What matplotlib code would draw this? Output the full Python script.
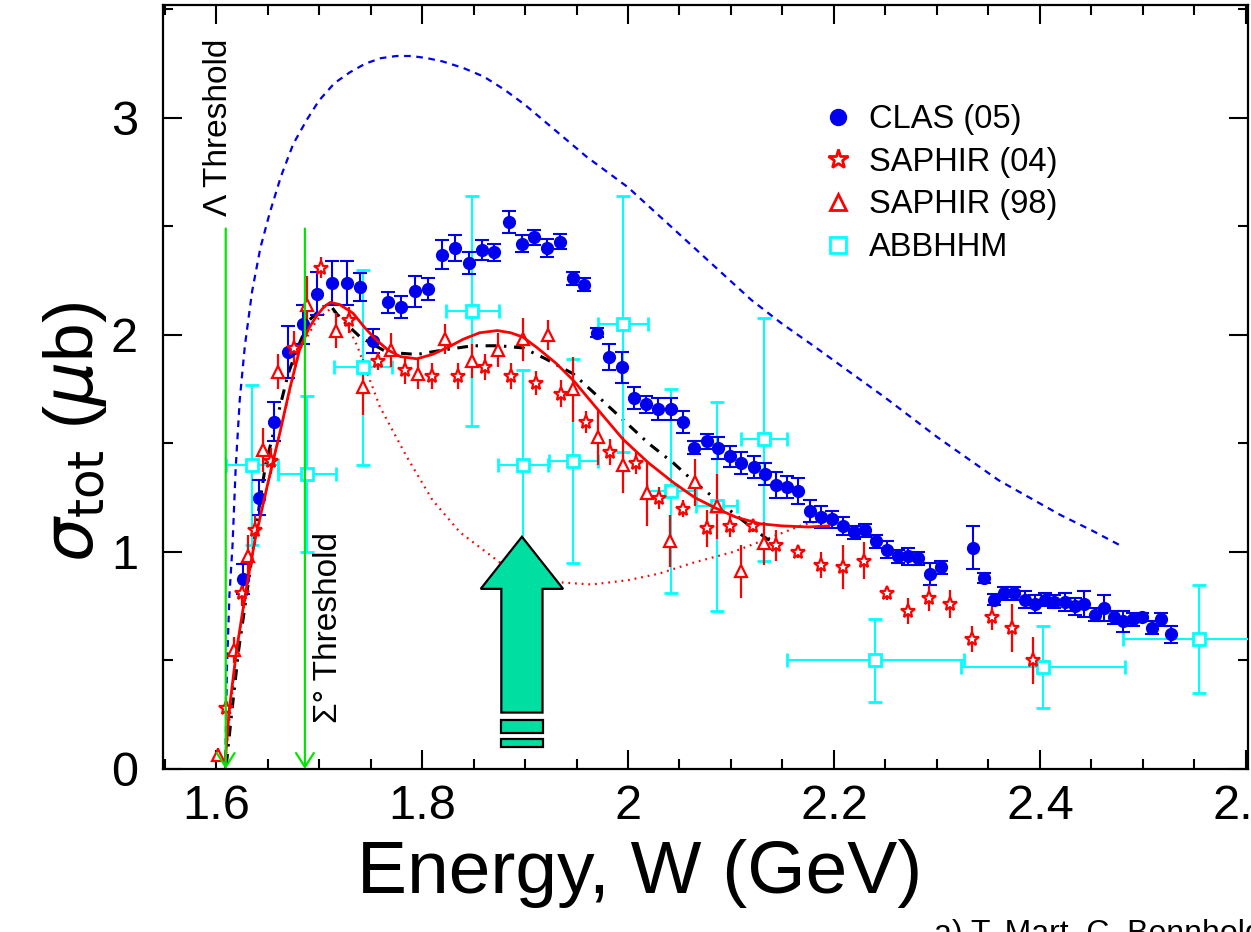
import matplotlib
matplotlib.use("Agg")
import matplotlib.pyplot as plt
from matplotlib.lines import Line2D
from matplotlib.patches import Polygon, Rectangle
from matplotlib.ticker import MultipleLocator, FuncFormatter

plt.rcParams['font.family'] = ['Liberation Sans', 'DejaVu Sans']

# ---- data: CLAS (05) ----
clas_w = [1.626, 1.642, 1.656, 1.670, 1.684, 1.698, 1.713, 1.727, 1.740, 1.752,
          1.767, 1.780, 1.793, 1.806, 1.819, 1.832, 1.846, 1.858, 1.870, 1.884,
          1.897, 1.909, 1.921, 1.934, 1.947, 1.957, 1.970, 1.982, 1.994, 2.006,
          2.017, 2.029, 2.042, 2.053, 2.064, 2.077, 2.087, 2.099, 2.110, 2.122,
          2.133, 2.144, 2.154, 2.165, 2.177, 2.187, 2.198, 2.209, 2.219, 2.230,
          2.241, 2.251, 2.262, 2.272, 2.282, 2.293, 2.304, 2.335, 2.346, 2.355,
          2.365, 2.375, 2.385, 2.395, 2.405, 2.414, 2.424, 2.434, 2.443, 2.453,
          2.462, 2.472, 2.481, 2.490, 2.499, 2.509, 2.518, 2.527]
clas_s = [0.876, 1.25, 1.60, 1.92, 2.05, 2.19, 2.24, 2.24, 2.22, 1.97,
          2.15, 2.13, 2.20, 2.21, 2.37, 2.40, 2.33, 2.39, 2.38, 2.52,
          2.42, 2.45, 2.40, 2.43, 2.26, 2.23, 2.01, 1.90, 1.85, 1.71,
          1.68, 1.66, 1.66, 1.60, 1.48, 1.51, 1.48, 1.44, 1.41, 1.39,
          1.36, 1.31, 1.30, 1.28, 1.19, 1.16, 1.15, 1.12, 1.09, 1.10,
          1.05, 1.01, 0.98, 0.98, 0.97, 0.90, 0.93, 1.02, 0.88, 0.78,
          0.81, 0.81, 0.78, 0.76, 0.78, 0.77, 0.77, 0.75, 0.76, 0.71,
          0.74, 0.70, 0.68, 0.69, 0.70, 0.65, 0.69, 0.62]
clas_e = [0.07, 0.08, 0.09, 0.12, 0.09, 0.10, 0.10, 0.10, 0.065, 0.055,
          0.05, 0.05, 0.07, 0.05, 0.065, 0.06, 0.05, 0.045, 0.04, 0.05,
          0.04, 0.035, 0.04, 0.035, 0.03, 0.03, 0.02, 0.06, 0.07, 0.05,
          0.04, 0.05, 0.05, 0.05, 0.03, 0.035, 0.05, 0.05, 0.05, 0.05,
          0.05, 0.06, 0.05, 0.06, 0.05, 0.05, 0.04, 0.04, 0.03, 0.03,
          0.03, 0.04, 0.03, 0.04, 0.03, 0.05, 0.03, 0.10, 0.025, 0.025,
          0.03, 0.03, 0.04, 0.04, 0.03, 0.03, 0.04, 0.04, 0.06, 0.03,
          0.06, 0.03, 0.05, 0.03, 0.02, 0.03, 0.03, 0.04]

# ---- SAPHIR (04) ----
s04_w = [1.610, 1.625, 1.638, 1.653, 1.676, 1.702, 1.729, 1.757, 1.783, 1.810,
         1.835, 1.861, 1.886, 1.911, 1.935, 1.959, 1.983, 2.008, 2.030, 2.053,
         2.077, 2.099, 2.121, 2.144, 2.165, 2.187, 2.209, 2.229, 2.251, 2.272,
         2.292, 2.313, 2.334, 2.353, 2.373, 2.393]
s04_s = [0.28, 0.81, 1.10, 1.42, 1.94, 2.31, 2.07, 1.88, 1.84, 1.81,
         1.81, 1.85, 1.81, 1.78, 1.73, 1.60, 1.46, 1.41, 1.25, 1.20,
         1.11, 1.12, 1.12, 1.03, 1.00, 0.94, 0.93, 0.96, 0.81, 0.73,
         0.79, 0.76, 0.60, 0.70, 0.65, 0.50]
s04_e = [0.05, 0.06, 0.07, 0.06, 0.08, 0.05, 0.06, 0.04, 0.065, 0.06,
         0.06, 0.06, 0.06, 0.055, 0.06, 0.05, 0.06, 0.05, 0.05, 0.04,
         0.085, 0.05, 0.03, 0.07, 0.03, 0.06, 0.10, 0.085, 0.03, 0.06,
         0.06, 0.065, 0.06, 0.06, 0.11, 0.11]

# ---- SAPHIR (98) ----
s98_w = [1.602, 1.617, 1.631, 1.646, 1.660, 1.688, 1.716, 1.743, 1.770, 1.796,
         1.822, 1.849, 1.874, 1.898, 1.922, 1.947, 1.971, 1.995, 2.018, 2.041,
         2.065, 2.086, 2.110, 2.132]
s98_s = [0.065, 0.55, 0.98, 1.47, 1.83, 2.14, 2.02, 1.76, 1.93, 1.82,
         1.98, 1.88, 1.93, 1.98, 2.00, 1.75, 1.53, 1.40, 1.27, 1.05,
         1.32, 1.21, 0.91, 1.04]
s98_e = [0.03, 0.06, 0.10, 0.10, 0.08, 0.13, 0.08, 0.13, 0.08, 0.07,
         0.07, 0.08, 0.08, 0.10, 0.07, 0.15, 0.13, 0.13, 0.15, 0.12,
         0.11, 0.15, 0.12, 0.10]

# ---- ABBHHM ----
abb_w = [1.635, 1.688, 1.743, 1.849, 1.898, 1.947, 1.995, 2.042, 2.086, 2.132,
         2.240, 2.403, 2.554]
abb_s = [1.40, 1.36, 1.85, 2.11, 1.40, 1.42, 2.05, 1.28, 1.21, 1.52,
         0.50, 0.47, 0.60]
abb_xe = [0.025, 0.028, 0.028, 0.026, 0.024, 0.024, 0.024, 0.024, 0.020, 0.022,
          0.086, 0.080, 0.073]
abb_ye = [0.37, 0.36, 0.45, 0.53, 0.44, 0.47, 0.59, 0.47, 0.48, 0.56,
          0.19, 0.19, 0.25]

# ---- model curves ----
fit_w = [1.609, 1.613, 1.620, 1.630, 1.638, 1.650, 1.662, 1.672, 1.681, 1.690,
         1.698, 1.705, 1.711, 1.720, 1.733, 1.745, 1.755, 1.767, 1.779, 1.795,
         1.810, 1.824, 1.840, 1.856, 1.873, 1.886, 1.898, 1.912, 1.930, 1.947,
         1.970, 1.995, 2.020, 2.044, 2.065, 2.086, 2.105, 2.128, 2.150, 2.175, 2.195]
fit_s = [0.04, 0.28, 0.55, 0.85, 1.06, 1.31, 1.55, 1.76, 1.93, 2.03,
         2.09, 2.13, 2.15, 2.14, 2.10, 2.03, 1.98, 1.93, 1.90, 1.89,
         1.91, 1.94, 1.98, 2.01, 2.02, 2.01, 1.99, 1.94, 1.87, 1.79,
         1.66, 1.52, 1.41, 1.32, 1.25, 1.20, 1.16, 1.13, 1.12, 1.115, 1.12]

dd_w = [1.610, 1.615, 1.622, 1.632, 1.641, 1.648, 1.660, 1.670, 1.679, 1.691,
        1.704, 1.712, 1.720, 1.740, 1.766, 1.795, 1.820, 1.849, 1.875, 1.898,
        1.920, 1.947, 1.970, 1.995, 2.020, 2.044, 2.065, 2.086, 2.110, 2.135, 2.140]
dd_s = [0.02, 0.25, 0.55, 0.88, 1.18, 1.40, 1.63, 1.82, 1.94, 2.07,
        2.13, 2.13, 2.08, 1.99, 1.92, 1.91, 1.93, 1.95, 1.95, 1.94,
        1.89, 1.82, 1.72, 1.61, 1.50, 1.41, 1.32, 1.24, 1.15, 1.06, 1.05]

dot_w = [1.609, 1.620, 1.638, 1.662, 1.681, 1.698, 1.711, 1.725, 1.737, 1.759,
         1.785, 1.810, 1.837, 1.876, 1.905, 1.934, 1.965, 2.000, 2.030, 2.063,
         2.102, 2.135, 2.167, 2.190]
dot_s = [0.04, 0.55, 1.06, 1.55, 1.93, 2.07, 2.12, 2.07, 1.95, 1.67,
         1.44, 1.24, 1.09, 0.95, 0.89, 0.86, 0.85, 0.87, 0.90, 0.95,
         1.00, 1.06, 1.12, 1.15]

dash_w = [1.609, 1.6105, 1.613, 1.616, 1.619, 1.623, 1.628, 1.635, 1.643, 1.652,
          1.663, 1.675, 1.688, 1.700, 1.715, 1.730, 1.745, 1.760, 1.775, 1.790,
          1.805, 1.820, 1.840, 1.860, 1.880, 1.900, 1.920, 1.940, 1.960, 1.980,
          2.000, 2.030, 2.060, 2.090, 2.120, 2.150, 2.180, 2.215, 2.250, 2.300,
          2.330, 2.360, 2.390, 2.420, 2.450, 2.478]
dash_s = [0.00, 0.45, 0.80, 1.03, 1.38, 1.70, 1.95, 2.20, 2.40, 2.56,
          2.73, 2.88, 2.99, 3.08, 3.16, 3.21, 3.25, 3.275, 3.285, 3.285,
          3.275, 3.26, 3.23, 3.19, 3.13, 3.06, 2.98, 2.90, 2.82, 2.75,
          2.68, 2.55, 2.42, 2.29, 2.16, 2.05, 1.95, 1.83, 1.71, 1.53,
          1.43, 1.33, 1.25, 1.17, 1.10, 1.03]

thresholds = [1.6094, 1.6863]

BLUE = '#0000ee'
RED = '#ff0000'
CYAN = '#00ffff'
GREEN = '#00e600'
MINT = '#00dfa2'

fig = plt.figure(figsize=(12.51, 9.32), dpi=100)
ax = fig.add_axes([163 / 1251, 1 - 769 / 932, (1248 - 163) / 1251, (769 - 5) / 932])
ax.set_xlim(1.5485, 2.602)
ax.set_ylim(0, 3.52)

# curves
ax.plot(dash_w, dash_s, color=BLUE, lw=1.6, dashes=(3, 2.5), zorder=2)
ax.plot(dot_w, dot_s, color=RED, lw=1.6, dashes=(0.8, 2.2), zorder=2)
ax.plot(dd_w, dd_s, color='black', lw=2.2, dashes=(3.5, 2.5, 0.8, 2.5), zorder=2)
ax.plot(fit_w, fit_s, color=RED, lw=2.0, zorder=4)

# data
ax.errorbar(abb_w, abb_s, xerr=abb_xe, yerr=abb_ye, fmt='s', ms=8, mfc='white',
            mec=CYAN, mew=2, ecolor=CYAN, elinewidth=1.5, capsize=5, capthick=1.5, zorder=3)
ax.errorbar(clas_w, clas_s, yerr=clas_e, fmt='o', ms=8.5, color=BLUE,
            elinewidth=1.5, capsize=5, capthick=1.5, zorder=3)
ax.errorbar(s98_w, s98_s, yerr=s98_e, fmt='^', ms=8.5, mfc='white', mec=RED, mew=1.6,
            ecolor=RED, elinewidth=1.6, capsize=0, zorder=3)
ax.errorbar(s04_w, s04_s, yerr=s04_e, fmt='*', ms=10, mfc='white', mec=RED, mew=1.6,
            ecolor=RED, elinewidth=1.6, capsize=0, zorder=3)

# threshold arrows
for w in thresholds:
    ax.annotate('', xy=(w, 0), xytext=(w, 2.49),
                arrowprops=dict(arrowstyle='->,head_length=0.5,head_width=0.32',
                                color=GREEN, lw=1.6, mutation_scale=20,
                                shrinkA=0, shrinkB=0), zorder=5)
ax.text(1.602, 2.55, 'Λ Threshold', rotation=90, ha='center', va='bottom', fontsize=24)
ax.text(1.709, 0.21, 'Σ° Threshold', rotation=90, ha='center', va='bottom', fontsize=24)

# big arrow
cx, tip, hb, hw, sw, bot = 1.897, 1.07, 0.83, 0.040, 0.020, 0.26
ax.add_patch(Polygon([(cx, tip), (cx + hw, hb), (cx + sw, hb), (cx + sw, bot),
                      (cx - sw, bot), (cx - sw, hb), (cx - hw, hb)],
                     closed=True, fc=MINT, ec='black', lw=1.6, zorder=6))
ax.add_patch(Rectangle((cx - sw, 0.166), 2 * sw, 0.06, fc=MINT, ec='black', lw=1.6, zorder=6))
ax.add_patch(Rectangle((cx - sw, 0.100), 2 * sw, 0.038, fc=MINT, ec='black', lw=1.6, zorder=6))

# legend
handles = [
    Line2D([], [], ls='none', marker='o', ms=11.5, color=BLUE),
    Line2D([], [], ls='none', marker='*', ms=15, mfc='white', mec=RED, mew=2),
    Line2D([], [], ls='none', marker='^', ms=12, mfc='white', mec=RED, mew=2),
    Line2D([], [], ls='none', marker='s', ms=11, mfc='white', mec=CYAN, mew=2),
]
labels = ['CLAS (05)', 'SAPHIR (04)', 'SAPHIR (98)', 'ABBHHM']
ax.legend(handles, labels, loc='upper left', bbox_to_anchor=(822 / 1251, 1 - 104 / 932),
          bbox_transform=fig.transFigure, frameon=False, fontsize=23.5,
          handlelength=1.0, handletextpad=0.45, labelspacing=0.36,
          borderpad=0, borderaxespad=0)

# axes styling
ax.xaxis.set_major_locator(MultipleLocator(0.2))
ax.xaxis.set_minor_locator(MultipleLocator(0.05))
ax.yaxis.set_major_locator(MultipleLocator(1))
ax.yaxis.set_minor_locator(MultipleLocator(0.5))
ax.xaxis.set_major_formatter(FuncFormatter(lambda v, p: f'{v:g}'))
ax.yaxis.set_major_formatter(FuncFormatter(lambda v, p: f'{v:g}'))
ax.tick_params(which='both', direction='in', top=True, right=True, width=1.5)
ax.tick_params(which='major', length=14, labelsize=35)
ax.tick_params(axis='x', which='major', pad=11)
ax.tick_params(axis='y', which='major', pad=18)
ax.tick_params(which='minor', length=7)
for sp in ax.spines.values():
    sp.set_linewidth(1.6)

fig.text(75 / 1251, 1 - 432 / 932, r'$\sigma_{\rm tot}$ ($\mu$b)', rotation=90,
         ha='center', va='center', fontsize=50)
fig.text(640 / 1251, 1 - 893 / 932, 'Energy, W (GeV)', ha='center', va='baseline',
         fontsize=54)
fig.text(934 / 1251, 1 - 919 / 932, 'a) T. Mart, C. Bennhold, H. Haberzettl',
         ha='left', va='top', fontsize=23)

fig.savefig('out.png', dpi=100)
